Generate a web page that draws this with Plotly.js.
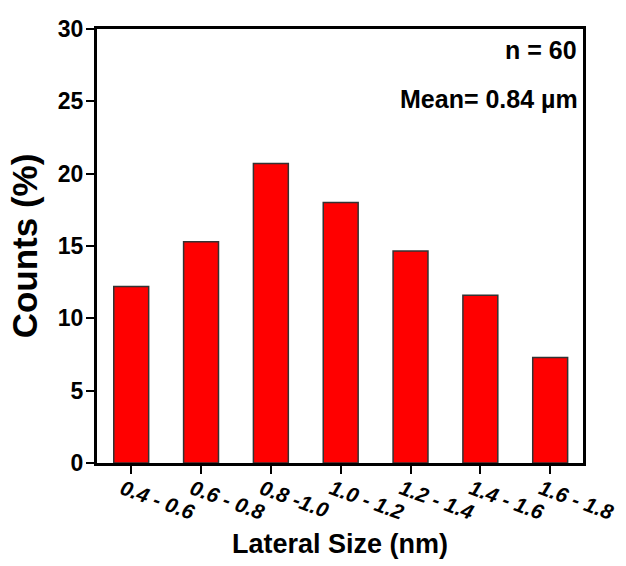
<!DOCTYPE html>
<html>
<head>
<meta charset="utf-8">
<script src="https://cdn.plot.ly/plotly-3.0.1.min.js"></script>
<style>html,body{margin:0;padding:0;background:#fff}#chart{width:626px;height:566px}</style>
</head>
<body>
<div id="chart"></div>
<script>
const categories = ['0.4 - 0.6', '0.6 - 0.8', '0.8 -1.0', '1.0 - 1.2', '1.2 - 1.4', '1.4 - 1.6', '1.6 - 1.8'];
const counts = [12.2, 15.3, 20.7, 18.0, 14.65, 11.6, 7.3];
const positions = [0, 1, 2, 3, 4, 5, 6];
const yTicks = [0, 5, 10, 15, 20, 25, 30];
const notes = ['n = 60', 'Mean= 0.84 \u00b5m'];

const FONT = 'Liberation Sans, Arial, sans-serif';

const trace = {
  type: 'bar',
  x: positions,
  y: counts,
  width: 0.5,
  marker: {color: '#ff0000', line: {color: '#333333', width: 1.5}},
  hoverinfo: 'skip'
};

const layout = {
  width: 626,
  height: 566,
  margin: {l: 97, r: 43, t: 29, b: 103},
  paper_bgcolor: '#ffffff',
  plot_bgcolor: '#ffffff',
  showlegend: false,
  font: {family: FONT, color: '#000'},
  xaxis: {
    range: [-0.49, 6.47],
    tickvals: positions,
    ticktext: categories,
    tickangle: 20,
    ticks: 'outside',
    ticklen: 8,
    tickwidth: 2,
    tickcolor: '#000',
    ticklabelshift: -9,
    ticklabelstandoff: -5,
    tickfont: {family: FONT, size: 21, style: 'italic', weight: 'bold', color: '#000'},
    showline: true,
    linecolor: '#000',
    linewidth: 3,
    mirror: true,
    showgrid: false,
    zeroline: false,
    title: {text: 'Lateral Size (nm)', font: {family: FONT, size: 27, weight: 'bold', color: '#000'}, standoff: 12}
  },
  yaxis: {
    range: [0, 30],
    tickvals: yTicks,
    ticks: 'outside',
    ticklen: 8,
    tickwidth: 2,
    tickcolor: '#000',
    ticklabelstandoff: -2,
    tickfont: {family: FONT, size: 23, weight: 'bold', color: '#000'},
    showline: true,
    linecolor: '#000',
    linewidth: 3,
    mirror: true,
    showgrid: false,
    zeroline: false,
    title: {text: 'Counts (%)', font: {family: FONT, size: 35, weight: 'bold', color: '#000'}, standoff: 10}
  },
  annotations: [
    {text: notes[0], xref: 'paper', yref: 'paper', x: 0.992, y: 0.952, xanchor: 'right', yanchor: 'middle', showarrow: false, font: {family: FONT, size: 25, weight: 'bold', color: '#000'}},
    {text: notes[1], xref: 'paper', yref: 'paper', x: 0.994, y: 0.838, xanchor: 'right', yanchor: 'middle', showarrow: false, font: {family: FONT, size: 25, weight: 'bold', color: '#000'}}
  ]
};

Plotly.newPlot('chart', [trace], layout, {staticPlot: true, displayModeBar: false});
</script>
</body>
</html>
